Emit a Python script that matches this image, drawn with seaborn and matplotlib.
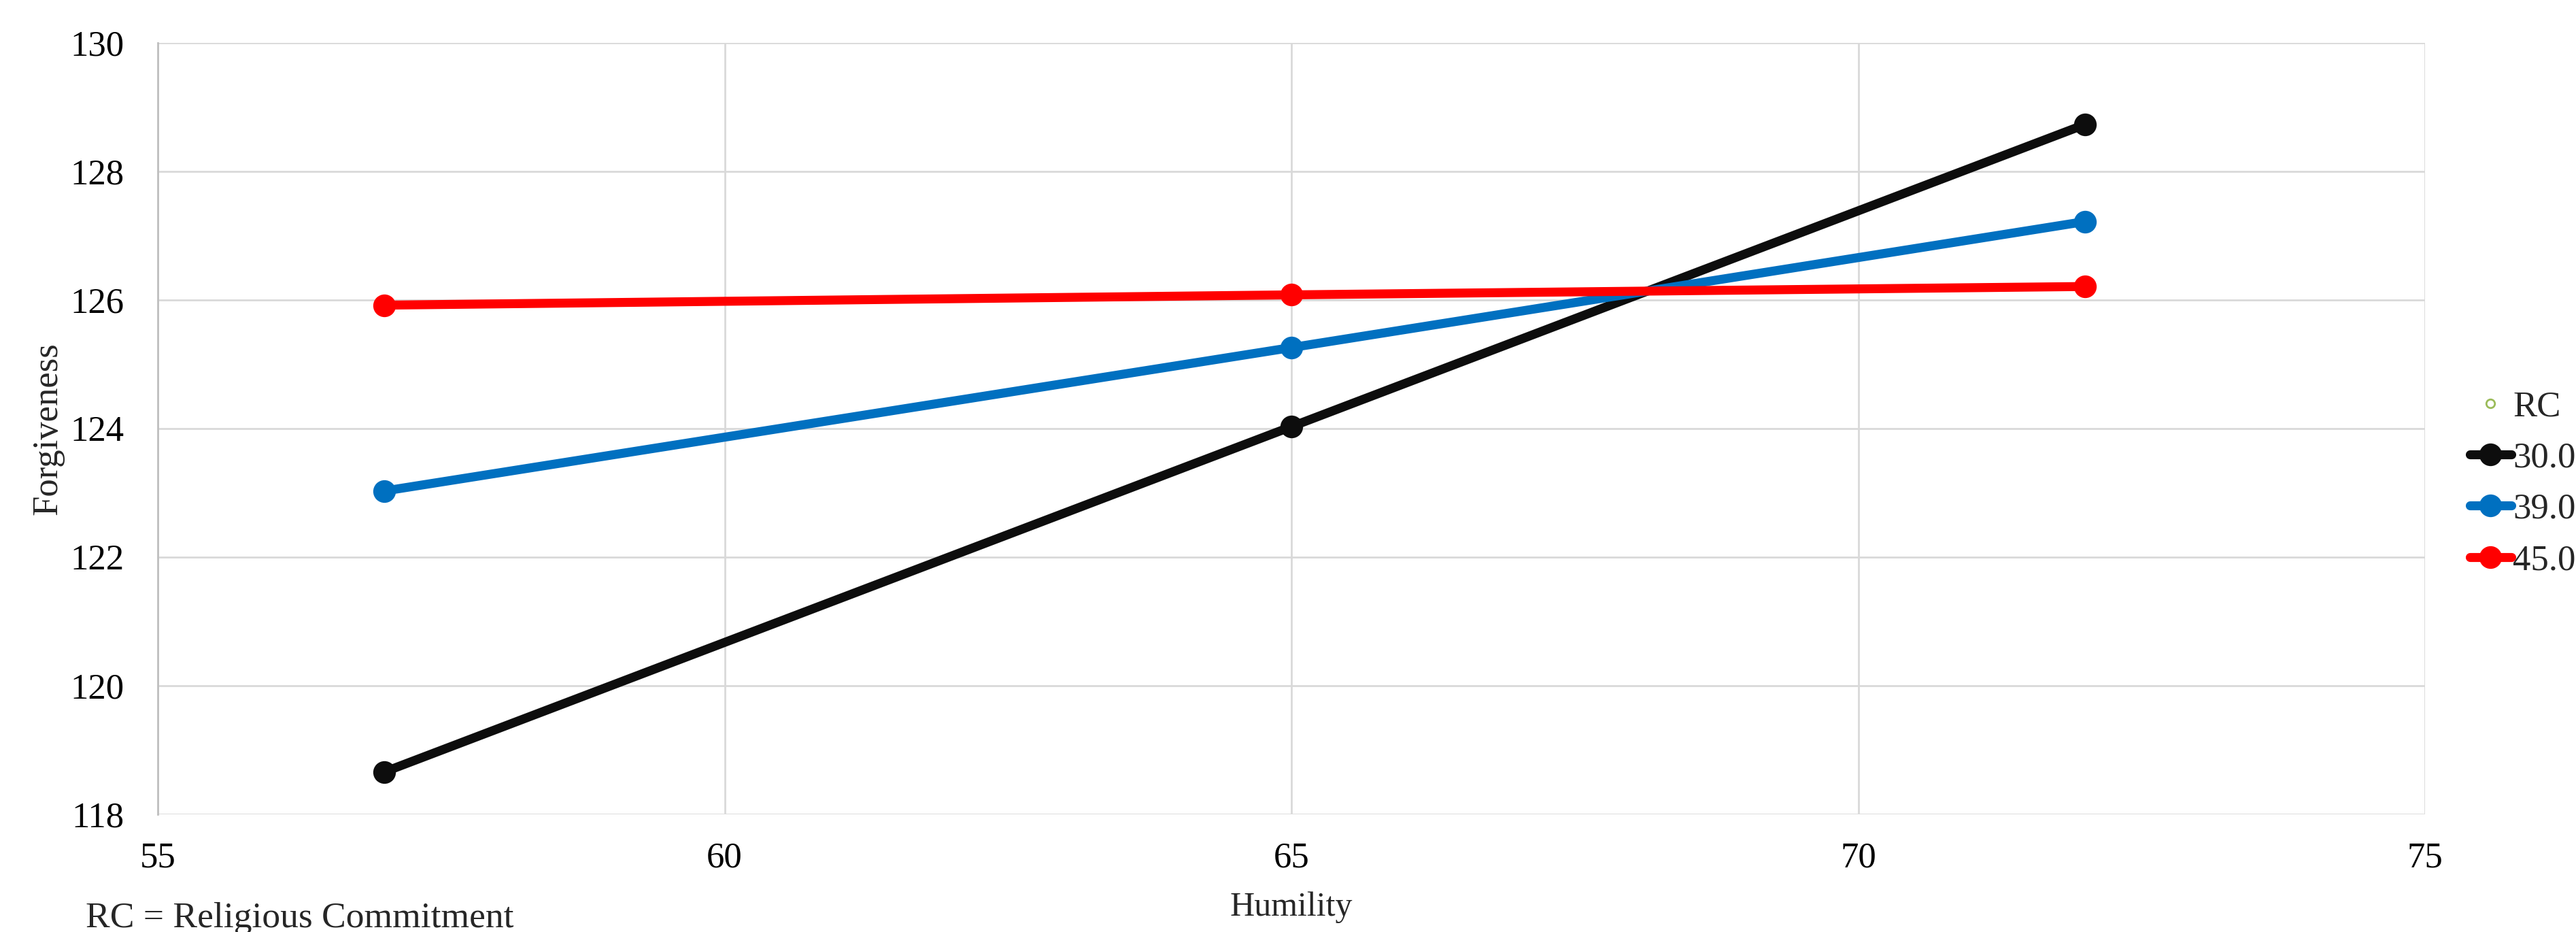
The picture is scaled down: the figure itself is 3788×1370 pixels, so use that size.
import pandas as pd
import numpy as np
import matplotlib
matplotlib.use('Agg')
import matplotlib.pyplot as plt
from matplotlib.lines import Line2D
import seaborn as sns

# Datos
humility = [57, 65, 72]
rc_levels = ['30.0', '39.0', '45.0']
forg_rc30 = [118.66, 124.03, 128.73]
forg_rc39 = [123.03, 125.26, 127.22]
forg_rc45 = [125.92, 126.08, 126.21]
colors = ['#0D0D0D', '#0070C0', '#FF0000']

df = pd.DataFrame({
    'Humility': humility * 3,
    'Forgiveness': forg_rc30 + forg_rc39 + forg_rc45,
    'RC': [lvl for lvl in rc_levels for _ in humility],
})

sns.set_style('white')
plt.rcParams['font.family'] = ['Liberation Serif', 'DejaVu Serif']

W, H = 3788, 1370
fig, ax = plt.subplots(figsize=(W / 100, H / 100), dpi=100)
fig.subplots_adjust(left=232 / W, right=3566 / W, top=1 - 63 / H, bottom=1 - 1197 / H)

sns.lineplot(data=df, x='Humility', y='Forgiveness', hue='RC',
             palette=dict(zip(rc_levels, colors)), marker='o',
             markersize=24, markeredgewidth=0, linewidth=9.5,
             legend=False, ax=ax)

ax.set_xlim(55, 75)
ax.set_ylim(118, 130)
ax.set_xticks(np.arange(55, 76, 5))
ax.set_yticks(np.arange(118, 131, 2))
ax.grid(True, color='#D9D9D9', linewidth=2)
ax.set_axisbelow(True)
for side in ['top', 'right', 'bottom']:
    ax.spines[side].set_visible(False)
ax.spines['left'].set_color('#BFBFBF')
ax.spines['left'].set_linewidth(2)
ax.tick_params(axis='both', length=0, labelsize=38, colors='black')
ax.tick_params(axis='y', pad=36)
ax.tick_params(axis='x', pad=29)

ax.set_xlabel('Humility', fontsize=36, labelpad=18)
ax.set_ylabel('Forgiveness', fontsize=38, labelpad=6)

# Leyenda manual (estilo Excel)
handles = [Line2D([], [], linestyle='none', marker='o', markersize=9,
                  markerfacecolor='none', markeredgecolor='#9BBB59', markeredgewidth=2)]
for c in colors:
    handles.append(Line2D([], [], color=c, linewidth=9.5, marker='o',
                          markersize=24, markeredgewidth=0, solid_capstyle='round'))
labels = ['RC'] + rc_levels
fig.legend(handles, labels, loc='upper left', bbox_to_anchor=(3632 / W, 1 - 574 / H),
           frameon=False, fontsize=38, handlelength=1.15, handletextpad=0.05,
           labelspacing=0.52, borderpad=0, borderaxespad=0)

fig.text(126 / W, 1 - 1350 / H, 'RC = Religious Commitment', fontsize=38.5,
         va='center', ha='left')

fig.savefig('out.png', dpi=100)
plt.close(fig)
